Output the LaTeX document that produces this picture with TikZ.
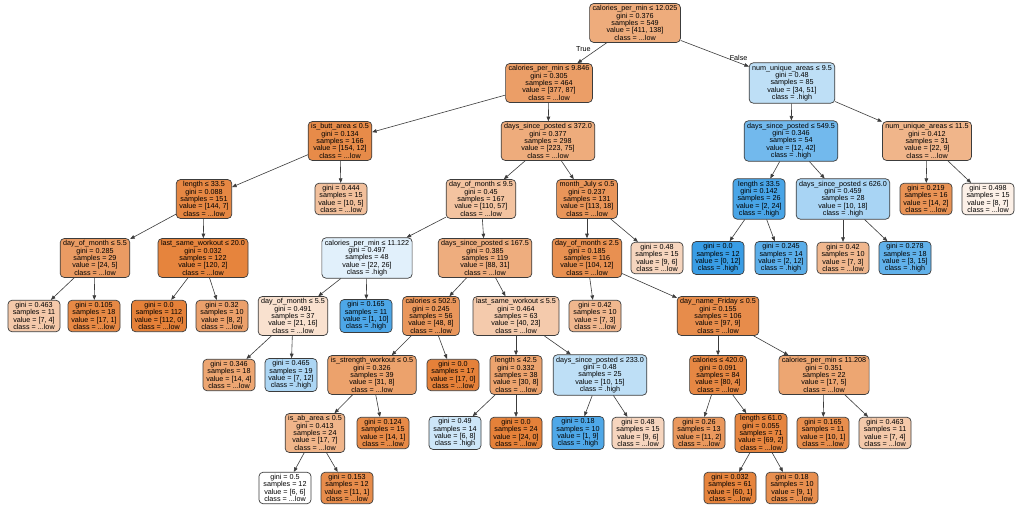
\documentclass[tikz,border=0pt]{standalone}
\usepackage{fontspec}
\setmainfont{Liberation Sans}
\usetikzlibrary{arrows.meta, positioning}
\definecolor{lowc}{RGB}{229,129,57}
\definecolor{highc}{RGB}{57,157,229}
\definecolor{edgec}{RGB}{60,60,60}

\begin{document}
\begin{tikzpicture}[x=1pt, y=-1pt, font=\fontsize{7.2}{7.4}\selectfont, >={Triangle[length=4.5pt,width=3.6pt]},
    every node/.style={align=center},
    splitbox/.style={draw=edgec, line width=0.7pt, rounded corners=4pt, minimum width=52pt, inner xsep=3pt, inner ysep=2pt},
    link/.style={->, draw=edgec, line width=0.6pt}]
    \fill[white] (0,0) rectangle (1024,510);

    \node[splitbox, fill=lowc!66] (root) at ({635},{23}) {calories\_per\_min ≤ 12.025\\gini = 0.376\\samples = 549\\value = [411, 138]\\class = ...low};

    \node[splitbox, fill=lowc!77] (cpm9) at ({549},{83}) {calories\_per\_min ≤ 9.846\\gini = 0.305\\samples = 464\\value = [377, 87]\\class = ...low};
    \node[splitbox, fill=highc!33] (nua9) at ({792},{83}) {num\_unique\_areas ≤ 9.5\\gini = 0.48\\samples = 85\\value = [34, 51]\\class = .high};

    \node[splitbox, fill=lowc!92] (butt) at ({340},{141}) {is\_butt\_area ≤ 0.5\\gini = 0.134\\samples = 166\\value = [154, 12]\\class = ...low};
    \node[splitbox, fill=lowc!66] (dsp372) at ({548},{141}) {days\_since\_posted ≤ 372.0\\gini = 0.377\\samples = 298\\value = [223, 75]\\class = ...low};
    \node[splitbox, fill=highc!71] (dsp549) at ({791},{141}) {days\_since\_posted ≤ 549.5\\gini = 0.346\\samples = 54\\value = [12, 42]\\class = .high};
    \node[splitbox, fill=lowc!59] (nua11) at ({927},{141}) {num\_unique\_areas ≤ 11.5\\gini = 0.412\\samples = 31\\value = [22, 9]\\class = ...low};

    \node[splitbox, fill=lowc!95] (len33) at ({204},{199}) {length ≤ 33.5\\gini = 0.088\\samples = 151\\value = [144, 7]\\class = ...low};
    \node[splitbox, fill=lowc!50] (lf444) at ({341},{199}) {gini = 0.444\\samples = 15\\value = [10, 5]\\class = ...low};
    \node[splitbox, fill=lowc!48] (dom9) at ({481},{199}) {day\_of\_month ≤ 9.5\\gini = 0.45\\samples = 167\\value = [110, 57]\\class = ...low};
    \node[splitbox, fill=lowc!84] (july) at ({587},{199}) {month\_July ≤ 0.5\\gini = 0.237\\samples = 131\\value = [113, 18]\\class = ...low};
    \node[splitbox, fill=highc!92] (len33b) at ({759},{199}) {length ≤ 33.5\\gini = 0.142\\samples = 26\\value = [2, 24]\\class = .high};
    \node[splitbox, fill=highc!44] (dsp626) at ({843},{199}) {days\_since\_posted ≤ 626.0\\gini = 0.459\\samples = 28\\value = [10, 18]\\class = .high};
    \node[splitbox, fill=lowc!86] (lf219) at ({926},{199}) {gini = 0.219\\samples = 16\\value = [14, 2]\\class = ...low};
    \node[splitbox, fill=lowc!12] (lf498) at ({988},{199}) {gini = 0.498\\samples = 15\\value = [8, 7]\\class = ...low};

    \node[splitbox, fill=lowc!79] (dom5) at ({95},{258}) {day\_of\_month ≤ 5.5\\gini = 0.285\\samples = 29\\value = [24, 5]\\class = ...low};
    \node[splitbox, fill=lowc!98] (lsw20) at ({203},{258}) {last\_same\_workout ≤ 20.0\\gini = 0.032\\samples = 122\\value = [120, 2]\\class = ...low};
    \node[splitbox, fill=highc!15] (cpm11) at ({367},{258}) {calories\_per\_min ≤ 11.122\\gini = 0.497\\samples = 48\\value = [22, 26]\\class = .high};
    \node[splitbox, fill=lowc!65] (dsp167) at ({485},{258}) {days\_since\_posted ≤ 167.5\\gini = 0.385\\samples = 119\\value = [88, 31]\\class = ...low};
    \node[splitbox, fill=lowc!88] (dom2) at ({587},{258}) {day\_of\_month ≤ 2.5\\gini = 0.185\\samples = 116\\value = [104, 12]\\class = ...low};
    \node[splitbox, fill=lowc!33] (lf48a) at ({657},{258}) {gini = 0.48\\samples = 15\\value = [9, 6]\\class = ...low};
    \node[splitbox, fill=highc!100] (lf0b) at ({718},{258}) {gini = 0.0\\samples = 12\\value = [0, 12]\\class = .high};
    \node[splitbox, fill=highc!83] (lf245) at ({781},{258}) {gini = 0.245\\samples = 14\\value = [2, 12]\\class = .high};
    \node[splitbox, fill=lowc!57] (lf42b) at ({843},{258}) {gini = 0.42\\samples = 10\\value = [7, 3]\\class = ...low};
    \node[splitbox, fill=highc!80] (lf278) at ({905},{258}) {gini = 0.278\\samples = 18\\value = [3, 15]\\class = .high};

    \node[splitbox, fill=lowc!43] (lf463) at ({34},{316}) {gini = 0.463\\samples = 11\\value = [7, 4]\\class = ...low};
    \node[splitbox, fill=lowc!94] (lf105) at ({94},{316}) {gini = 0.105\\samples = 18\\value = [17, 1]\\class = ...low};
    \node[splitbox, fill=lowc!100] (lf0a) at ({159},{316}) {gini = 0.0\\samples = 112\\value = [112, 0]\\class = ...low};
    \node[splitbox, fill=lowc!75] (lf32) at ({222},{316}) {gini = 0.32\\samples = 10\\value = [8, 2]\\class = ...low};
    \node[splitbox, fill=lowc!24] (dom5b) at ({293},{316}) {day\_of\_month ≤ 5.5\\gini = 0.491\\samples = 37\\value = [21, 16]\\class = ...low};
    \node[splitbox, fill=highc!90] (lf165) at ({366},{316}) {gini = 0.165\\samples = 11\\value = [1, 10]\\class = .high};
    \node[splitbox, fill=lowc!83] (cal502) at ({431},{316}) {calories ≤ 502.5\\gini = 0.245\\samples = 56\\value = [48, 8]\\class = ...low};
    \node[splitbox, fill=lowc!42] (lsw5) at ({516},{316}) {last\_same\_workout ≤ 5.5\\gini = 0.464\\samples = 63\\value = [40, 23]\\class = ...low};
    \node[splitbox, fill=lowc!57] (lf42a) at ({595},{316}) {gini = 0.42\\samples = 10\\value = [7, 3]\\class = ...low};
    \node[splitbox, fill=lowc!91] (dnf) at ({718},{316}) {day\_name\_Friday ≤ 0.5\\gini = 0.155\\samples = 106\\value = [97, 9]\\class = ...low};

    \node[splitbox, fill=lowc!71] (lf346) at ({229},{375}) {gini = 0.346\\samples = 18\\value = [14, 4]\\class = ...low};
    \node[splitbox, fill=highc!42] (lf465) at ({291},{375}) {gini = 0.465\\samples = 19\\value = [7, 12]\\class = .high};
    \node[splitbox, fill=lowc!74] (isw) at ({372},{375}) {is\_strength\_workout ≤ 0.5\\gini = 0.326\\samples = 39\\value = [31, 8]\\class = ...low};
    \node[splitbox, fill=lowc!100] (lf0c) at ({453},{375}) {gini = 0.0\\samples = 17\\value = [17, 0]\\class = ...low};
    \node[splitbox, fill=lowc!73] (len42) at ({516},{375}) {length ≤ 42.5\\gini = 0.332\\samples = 38\\value = [30, 8]\\class = ...low};
    \node[splitbox, fill=highc!33] (dsp233) at ({600},{375}) {days\_since\_posted ≤ 233.0\\gini = 0.48\\samples = 25\\value = [10, 15]\\class = .high};
    \node[splitbox, fill=lowc!95] (cal420) at ({718},{375}) {calories ≤ 420.0\\gini = 0.091\\samples = 84\\value = [80, 4]\\class = ...low};
    \node[splitbox, fill=lowc!71] (cpm11b) at ({824},{375}) {calories\_per\_min ≤ 11.208\\gini = 0.351\\samples = 22\\value = [17, 5]\\class = ...low};

    \node[splitbox, fill=lowc!59] (isab) at ({315},{433}) {is\_ab\_area ≤ 0.5\\gini = 0.413\\samples = 24\\value = [17, 7]\\class = ...low};
    \node[splitbox, fill=lowc!93] (lf124) at ({383},{433}) {gini = 0.124\\samples = 15\\value = [14, 1]\\class = ...low};
    \node[splitbox, fill=highc!25] (lf49) at ({455},{433}) {gini = 0.49\\samples = 14\\value = [6, 8]\\class = .high};
    \node[splitbox, fill=lowc!100] (lf0d) at ({516},{433}) {gini = 0.0\\samples = 24\\value = [24, 0]\\class = ...low};
    \node[splitbox, fill=highc!89] (lf18) at ({578},{433}) {gini = 0.18\\samples = 10\\value = [1, 9]\\class = .high};
    \node[splitbox, fill=lowc!33] (lf48b) at ({638},{433}) {gini = 0.48\\samples = 15\\value = [9, 6]\\class = ...low};
    \node[splitbox, fill=lowc!82] (lf26) at ({699},{433}) {gini = 0.26\\samples = 13\\value = [11, 2]\\class = ...low};
    \node[splitbox, fill=lowc!97] (len61) at ({761},{433}) {length ≤ 61.0\\gini = 0.055\\samples = 71\\value = [69, 2]\\class = ...low};
    \node[splitbox, fill=lowc!90] (lf165b) at ({823},{433}) {gini = 0.165\\samples = 11\\value = [10, 1]\\class = ...low};
    \node[splitbox, fill=lowc!43] (lf463b) at ({885},{433}) {gini = 0.463\\samples = 11\\value = [7, 4]\\class = ...low};

    \node[splitbox, fill=white] (lf5) at ({285},{488}) {gini = 0.5\\samples = 12\\value = [6, 6]\\class = ...low};
    \node[splitbox, fill=lowc!91] (lf153) at ({347},{488}) {gini = 0.153\\samples = 12\\value = [11, 1]\\class = ...low};
    \node[splitbox, fill=lowc!98] (lf032) at ({730},{488}) {gini = 0.032\\samples = 61\\value = [60, 1]\\class = ...low};
    \node[splitbox, fill=lowc!89] (lf18b) at ({792},{488}) {gini = 0.18\\samples = 10\\value = [9, 1]\\class = ...low};

    \draw[link] (root) -- node[above left, pos=0.5, inner sep=1pt] (ltrue) {True} (cpm9);
    \draw[link] (root) -- node[above, pos=0.85, inner sep=2pt] (lfalse) {False} (nua9);
    \draw[link] (cpm9) -- (butt);
    \draw[link] (cpm9) -- (dsp372);
    \draw[link] (nua9) -- (dsp549);
    \draw[link] (nua9) -- (nua11);
    \draw[link] (butt) -- (len33);
    \draw[link] (butt) -- (lf444);
    \draw[link] (dsp372) -- (dom9);
    \draw[link] (dsp372) -- (july);
    \draw[link] (dsp549) -- (len33b);
    \draw[link] (dsp549) -- (dsp626);
    \draw[link] (nua11) -- (lf219);
    \draw[link] (nua11) -- (lf498);
    \draw[link] (len33) -- (dom5);
    \draw[link] (len33) -- (lsw20);
    \draw[link] (dom9) -- (cpm11);
    \draw[link] (dom9) -- (dsp167);
    \draw[link] (july) -- (dom2);
    \draw[link] (july) -- (lf48a);
    \draw[link] (len33b) -- (lf0b);
    \draw[link] (len33b) -- (lf245);
    \draw[link] (dsp626) -- (lf42b);
    \draw[link] (dsp626) -- (lf278);
    \draw[link] (dom5) -- (lf463);
    \draw[link] (dom5) -- (lf105);
    \draw[link] (lsw20) -- (lf0a);
    \draw[link] (lsw20) -- (lf32);
    \draw[link] (cpm11) -- (dom5b);
    \draw[link] (cpm11) -- (lf165);
    \draw[link] (dsp167) -- (cal502);
    \draw[link] (dsp167) -- (lsw5);
    \draw[link] (dom2) -- (lf42a);
    \draw[link] (dom2) -- (dnf);
    \draw[link] (dom5b) -- (lf346);
    \draw[link] (dom5b) -- (lf465);
    \draw[link] (cal502) -- (isw);
    \draw[link] (cal502) -- (lf0c);
    \draw[link] (lsw5) -- (len42);
    \draw[link] (lsw5) -- (dsp233);
    \draw[link] (dnf) -- (cal420);
    \draw[link] (dnf) -- (cpm11b);
    \draw[link] (isw) -- (isab);
    \draw[link] (isw) -- (lf124);
    \draw[link] (len42) -- (lf49);
    \draw[link] (len42) -- (lf0d);
    \draw[link] (dsp233) -- (lf18);
    \draw[link] (dsp233) -- (lf48b);
    \draw[link] (cal420) -- (lf26);
    \draw[link] (cal420) -- (len61);
    \draw[link] (cpm11b) -- (lf165b);
    \draw[link] (cpm11b) -- (lf463b);
    \draw[link] (isab) -- (lf5);
    \draw[link] (isab) -- (lf153);
    \draw[link] (len61) -- (lf032);
    \draw[link] (len61) -- (lf18b);
\end{tikzpicture}
\end{document}
